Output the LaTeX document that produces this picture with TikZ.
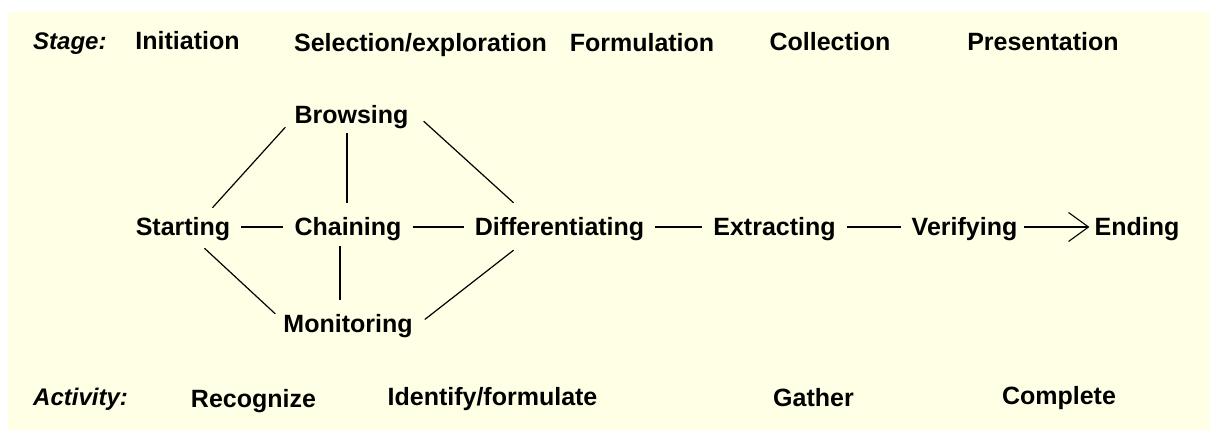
\documentclass[tikz,border=0pt]{standalone}
\usepackage{fontspec}
\setmainfont{Liberation Sans}
\usetikzlibrary{arrows.meta,calc}
\definecolor{cream}{HTML}{FFFFE6}
\newcommand\lbfont{\fontsize{25}{29}\selectfont\bfseries}
\newcommand\hdfont{\fontsize{24}{28}\selectfont\bfseries\itshape}
\tikzset{
  lbl/.style={font=\lbfont, inner sep=0pt, text height=18pt, text depth=0pt, anchor=base},
  hdr/.style={font=\hdfont, inner sep=0pt, anchor=base west},
  conn/.style={draw=black, line width=1.2pt},
  hconn/.style={conn, shorten <=11pt, shorten >=11pt},
}
\begin{document}
\begin{tikzpicture}[x=1pt,y=-1pt]
\useasboundingbox (0,0) rectangle (1210,430);
\fill[cream] (8,12) rectangle (1210,430);
% top row
\node[hdr] (stage) at (33,50) {Stage:};
\node[lbl] (init) at (187.5,50) {Initiation};
\node[lbl] (sel) at (420.5,52) {Selection/exploration};
\node[lbl] (form) at (642,52) {Formulation};
\node[lbl] (coll) at (830,51) {Collection};
\node[lbl] (pres) at (1043,51) {Presentation};
% middle
\node[lbl] (browse) at (351.5,124) {Browsing};
\node[lbl] (start) at (183,236) {Starting};
\node[lbl] (chain) at (348,236) {Chaining};
\node[lbl] (diff) at (559.5,236) {Differentiating};
\node[lbl] (extr) at (774.5,236) {Extracting};
\node[lbl] (verif) at (964.5,236) {Verifying};
\node[lbl] (end) at (1137,236) {Ending};
\node[lbl] (mon) at (348,332) {Monitoring};
% bottom row
\node[hdr] (act) at (33,405) {Activity:};
\node[lbl] (rec) at (253.5,407) {Recognize};
\node[lbl] (ident) at (492.5,405) {Identify/formulate};
\node[lbl] (gath) at (813.5,406) {Gather};
\node[lbl] (comp) at (1059,404) {Complete};
% connectors
\draw[hconn] (start.east) -- (chain.west);
\draw[hconn] (chain.east) -- (diff.west);
\draw[hconn] (diff.east) -- (extr.west);
\draw[hconn] (extr.east) -- (verif.west);
\draw[conn, shorten <=6pt, shorten >=5pt, -{Straight Barb[length=20pt,width=29pt,line width=1.1pt]}] (verif.east) -- (end.west);
\draw[conn] ([shift={(-18,-10)}]start.north east) -- ([shift={(-9,3)}]browse.south west);
\draw[conn] ([shift={(15,-3)}]browse.south east) -- ([shift={(39,-15)}]diff.north west);
\draw[conn] ([shift={(-26,12)}]start.south east) -- ([shift={(-8,0)}]mon.north west);
\draw[conn] ([shift={(12,-3.5)}]mon.east) -- ([shift={(39,14)}]diff.south west);
\draw[conn] ([shift={(-4.5,9)}]browse.south) -- ([shift={(-1,-15)}]chain.north);
\draw[conn] ([shift={(-8,10)}]chain.south) -- ([shift={(-8,-14)}]mon.north);
\end{tikzpicture}
\end{document}
